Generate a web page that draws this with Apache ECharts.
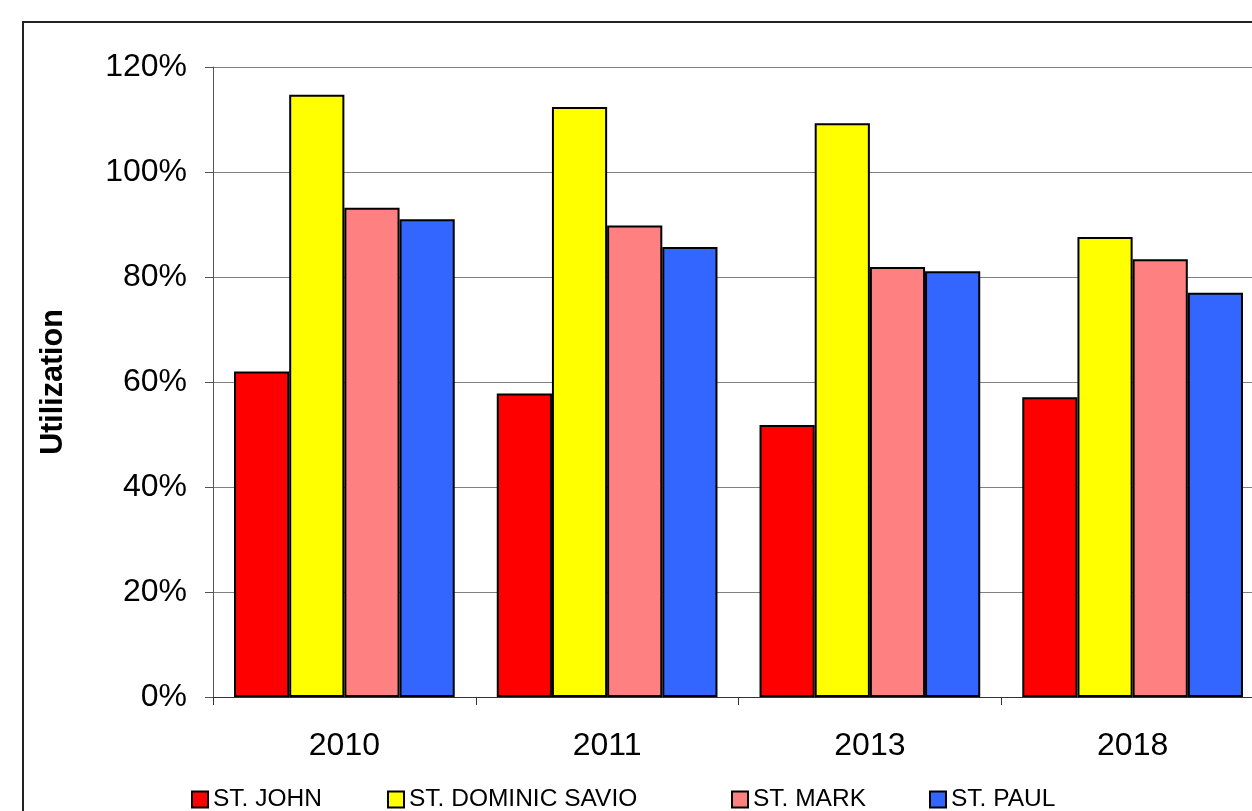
<!DOCTYPE html>
<html>
<head>
<meta charset="utf-8">
<script src="https://cdn.jsdelivr.net/npm/echarts@6/dist/echarts.min.js"></script>
<style>
html,body{margin:0;padding:0;background:#fff;}
#chart{width:1252px;height:811px;}
</style>
</head>
<body>
<div id="chart"></div>
<script>
var categories = ['2010', '2011', '2013', '2018'];
var stJohn = [62.0, 57.8, 51.8, 57.1];
var stDominicSavio = [114.7, 112.4, 109.3, 87.6];
var stMark = [93.2, 89.8, 81.9, 83.4];
var stPaul = [91.0, 85.7, 81.1, 77.0];
var seriesNames = ['ST. JOHN', 'ST. DOMINIC SAVIO', 'ST. MARK', 'ST. PAUL'];
var seriesColors = ['#FF0000', '#FFFF00', '#FF8080', '#3366FF'];
var seriesValues = [stJohn, stDominicSavio, stMark, stPaul];
var legendLefts = [191, 387, 731, 929];

var font = 'Liberation Sans, Arial, sans-serif';
var chart = echarts.init(document.getElementById('chart'));

var series = seriesNames.map(function (name, i) {
  return {
    name: name,
    type: 'bar',
    data: seriesValues[i],
    barGap: '0%',
    barCategoryGap: '16%',
    itemStyle: { color: seriesColors[i], borderColor: '#000', borderWidth: 2 },
    emphasis: { disabled: true }
  };
});

var legends = seriesNames.map(function (name, i) {
  return {
    data: [name],
    left: legendLefts[i],
    top: 787,
    padding: 0,
    itemWidth: 16,
    itemHeight: 16,
    itemGap: 0,
    icon: 'rect',
    textStyle: { fontFamily: font, fontSize: 24.5, color: '#000', padding: [0, 0, 0, 0] }
  };
});

chart.setOption({
  animation: false,
  backgroundColor: '#fff',
  graphic: [{
    type: 'rect',
    shape: { x: 23, y: 22, width: 1400, height: 1000 },
    style: { fill: 'none', stroke: '#222', lineWidth: 2 },
    z: 100
  }],
  grid: { left: 213, top: 67, width: 1051, height: 630, outerBoundsMode: 'none', containLabel: false },
  legend: legends,
  xAxis: {
    type: 'category',
    data: categories,
    axisLine: { lineStyle: { color: '#333', width: 1 } },
    axisTick: { show: true, length: 8, lineStyle: { color: '#333' } },
    axisLabel: { fontFamily: font, fontSize: 32, color: '#000', margin: 33 }
  },
  yAxis: {
    type: 'value',
    min: 0,
    max: 120,
    interval: 20,
    name: 'Utilization',
    nameLocation: 'middle',
    nameGap: 144,
    nameTextStyle: { fontFamily: font, fontSize: 30.5, fontWeight: 'bold', color: '#000' },
    axisLine: { show: true, lineStyle: { color: '#555', width: 1 } },
    axisTick: { show: true, length: 8, lineStyle: { color: '#555' } },
    axisLabel: { fontFamily: font, fontSize: 32, color: '#000', margin: 26, formatter: '{value}%' },
    splitLine: { show: true, lineStyle: { color: '#808080', width: 1 } }
  },
  series: series
});
</script>
</body>
</html>
